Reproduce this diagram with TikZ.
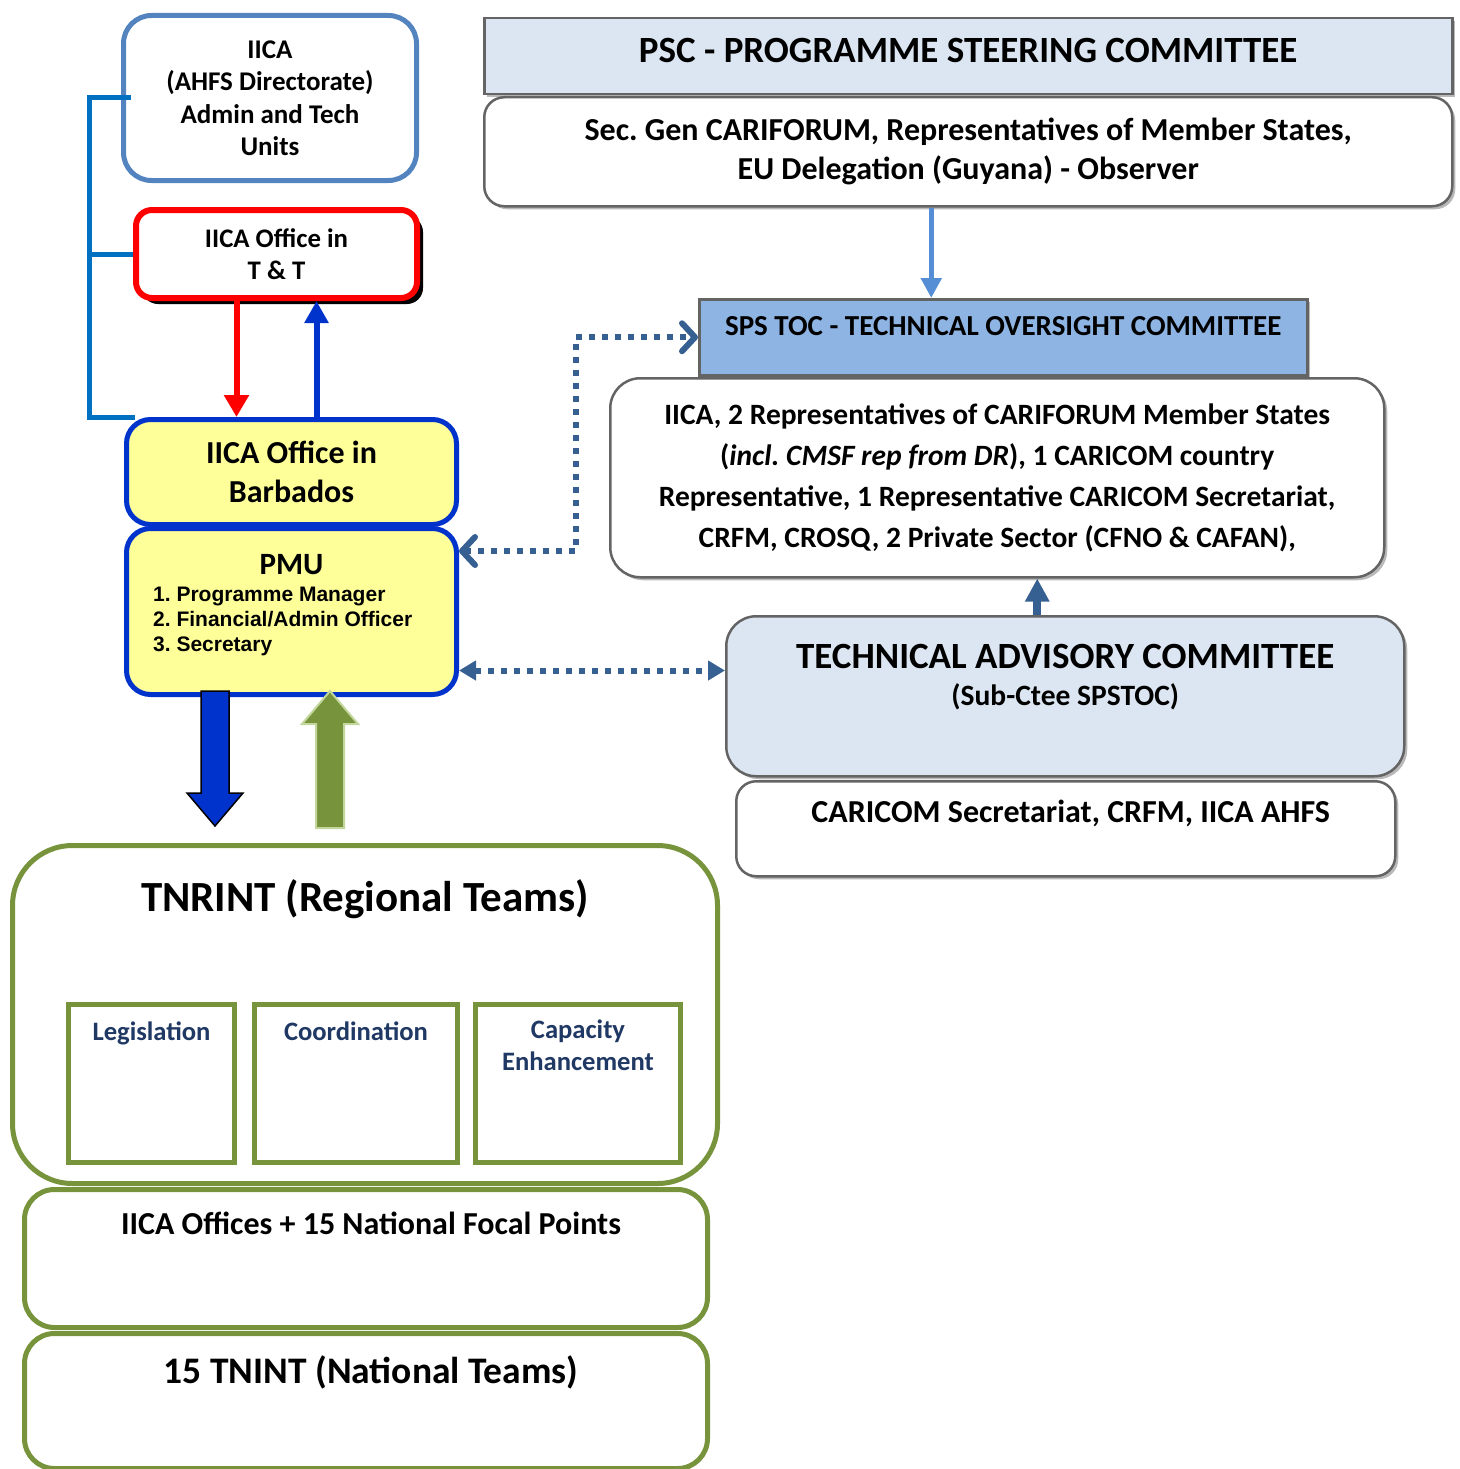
\documentclass[tikz,border=0pt]{standalone}
\usepackage{fontspec}
\setmainfont{Carlito}
\newfontfamily\listfont{Liberation Sans}
\usetikzlibrary{positioning, shadows, arrows.meta}
\frenchspacing

\definecolor{ahfsblue}{RGB}{84,132,192}
\definecolor{bracketblue}{RGB}{0,112,192}
\definecolor{pmublue}{RGB}{0,51,204}
\definecolor{pmuyellow}{RGB}{255,255,153}
\definecolor{teamgreen}{RGB}{119,147,60}
\definecolor{paleteam}{RGB}{195,214,155}
\definecolor{areablue}{RGB}{31,56,100}
\definecolor{boxgray}{RGB}{100,100,100}
\definecolor{shadegray}{RGB}{185,185,185}
\definecolor{headfill}{RGB}{220,230,242}
\definecolor{tocfill}{RGB}{142,180,227}
\definecolor{linkblue}{RGB}{85,142,213}
\definecolor{dotblue}{RGB}{55,96,146}
\newcommand*{\fsz}[2]{\fontsize{#1}{#2}\selectfont}

\begin{document}
\begin{tikzpicture}[x=1pt, y=-1pt, font=\bfseries,
    every node/.style={inner sep=0pt},
    ahfsbox/.style={draw=ahfsblue, line width=5pt, rounded corners=28pt, anchor=north west,
      align=center, font=\bfseries\fsz{27}{32.5}},
    ttbox/.style={draw=red, line width=6pt, rounded corners=16pt, fill=white, anchor=north west,
      align=center, font=\bfseries\fsz{26.8}{32.5},
      drop shadow={fill=black, opacity=1, shadow xshift=6pt, shadow yshift=-6pt}},
    pmubox/.style={draw=pmublue, line width=5pt, rounded corners=24pt, fill=pmuyellow,
      anchor=north west, align=center},
    teambox/.style={draw=teamgreen, line width=5pt, rounded corners=#1, fill=white, anchor=north west},
    areabox/.style={draw=teamgreen, line width=5pt, fill=white, anchor=north west},
    areatext/.style={text=areablue, align=center, font=\bfseries\fsz{26.6}{32}},
    headbox/.style={draw=boxgray, line width=2.5pt, fill=headfill, anchor=north west,
      drop shadow={fill=shadegray, opacity=1, shadow xshift=3pt, shadow yshift=-3pt}},
    membox/.style={draw=boxgray, line width=2.5pt, fill=white, rounded corners=#1, anchor=north west,
      align=center, drop shadow={fill=shadegray, opacity=1, shadow xshift=3pt, shadow yshift=-3pt}},
    bracket/.style={draw=bracketblue, line width=5pt},
    downlink/.style={draw=red, line width=6pt, -{Triangle[length=22pt, width=24pt]}},
    uplink/.style={draw=pmublue, line width=6pt, -{Triangle[length=22pt, width=23pt]}},
    psclink/.style={draw=linkblue, line width=5pt, -{Triangle[length=20pt, width=20pt]}},
    taclink/.style={draw=dotblue, line width=8pt, -{Triangle[length=23pt, width=23pt]}},
    dotlink/.style={draw=dotblue, line width=6pt, dash pattern=on 6pt off 7pt},
    barbtip/.tip={Straight Barb[length=13pt, width=28pt, line width=6pt, round]},
    tritip/.tip={Triangle[length=17pt, width=19pt]},
  ]
  \useasboundingbox (0,0) rectangle (1459,1469);

  % left column
  \node[ahfsbox, minimum width=293pt, minimum height=165pt] (ahfs) at (121,13)
    {IICA\\(AHFS Directorate)\\Admin and Tech\\Units};
  \node[ttbox, minimum width=281pt, minimum height=88pt] (tt) at (133,207)
    {IICA Office in\\T \& T};
  \node[pmubox, minimum width=330pt, minimum height=105pt, font=\bfseries\fsz{32}{39}] (barb) at (124,417)
    {IICA Office in\\Barbados};
  \node[pmubox, minimum width=330pt, minimum height=166pt] (pmu) at (124,526) {};
  \node[anchor=base, font=\bfseries\fsz{31}{36}] (pmutitle) at (pmu.north |- 0,574) {PMU};
  \node[anchor=north west, align=left, font=\listfont\bfseries\fsz{21}{25}] (pmulist) at (153,587)
    {1. Programme Manager\\2. Financial/Admin Officer\\3. Secretary};

  \coordinate (brk) at (89,0);
  \draw[bracket] ([xshift=10pt]ahfs.west) -- (ahfs.west -| brk) -- (barb.north west -| brk)
    -- ([xshift=11pt]barb.north west);
  \draw[bracket] (tt.west -| brk) -- (tt.west);
  \draw[downlink] ([xshift=-40pt]tt.south) -- ([xshift=-40pt]tt.south |- barb.north);
  \draw[uplink] ([xshift=40pt]tt.south |- barb.north) -- ([xshift=40pt]tt.south);

  % teams
  \node[teambox=60pt, minimum width=705pt, minimum height=338pt] (tnr) at (10,843) {};
  \node[anchor=base, font=\bfseries\fsz{43}{48}] (tnrtitle) at (tnr.north |- 0,911) {TNRINT (Regional Teams)};
  \node[areabox, minimum width=166pt, minimum height=158pt] (legis) at (66,1002) {};
  \node[areabox, minimum width=203pt, minimum height=158pt] (coord) at (252,1002) {};
  \node[areabox, minimum width=205pt, minimum height=158pt] (capac) at (473,1002) {};
  \node[areatext, anchor=base] (legistext) at (legis.north |- 0,1040) {Legislation};
  \node[areatext, anchor=base] (coordtext) at (coord.north |- 0,1040) {Coordination};
  \node[areatext, anchor=north] (capactext) at (capac.north |- 0,1020) {Capacity\\Enhancement};
  \node[teambox=30pt, minimum width=683pt, minimum height=138pt] (focal) at (22,1187) {};
  \node[anchor=base, font=\bfseries\fsz{32}{35}] (focaltext) at ([xshift=5pt]focal.north |- 0,1234)
    {IICA Offices + 15 National Focal Points};
  \node[teambox=30pt, minimum width=683pt, minimum height=135pt] (natl) at (22,1331) {};
  \node[anchor=base, font=\bfseries\fsz{37.5}{40}] (natltext) at ([xshift=5pt]natl.north |- 0,1383)
    {15 TNINT (National Teams)};

  \filldraw[fill=pmublue, draw=black, line width=1.5pt]
    (201,691) -- (229,691) -- (229,793) -- (243,793) -- (215,826) -- (187,793) -- (201,793) -- cycle;
  \filldraw[fill=teamgreen, draw=paleteam, line width=2pt]
    (316,828) -- (344,828) -- (344,724) -- (358,724) -- (330,691) -- (302,724) -- (316,724) -- cycle;

  % committees
  \node[headbox, minimum width=968pt, minimum height=76pt] (psch) at (483,17) {};
  \node[anchor=base, font=\bfseries\fsz{37}{40}] (pschtext) at (psch.north |- 0,63)
    {PSC - PROGRAMME STEERING COMMITTEE};
  \node[membox=20pt, minimum width=968pt, minimum height=109pt, font=\bfseries\fsz{32}{39}] (pscm) at (483,96)
    {Sec. Gen CARIFORUM, Representatives of Member States,\\EU Delegation (Guyana) - Observer};
  \node[headbox, fill=tocfill, minimum width=608pt, minimum height=76pt] (toch) at (698,298) {};
  \node[anchor=base, font=\bfseries\fsz{29}{32}] (tochtext) at (toch.north |- 0,335)
    {SPS TOC - TECHNICAL OVERSIGHT COMMITTEE};
  \node[membox=30pt, minimum width=774pt, minimum height=199pt, font=\bfseries\fsz{29.5}{41}] (tocm) at (609,377)
    {IICA, 2 Representatives of CARIFORUM Member States\\
     (\textit{incl. CMSF rep from DR}), 1 CARICOM country\\
     Representative, 1 Representative CARICOM Secretariat,\\
     CRFM, CROSQ, 2 Private Sector (CFNO \& CAFAN),};
  \node[membox=30pt, fill=headfill, minimum width=678pt, minimum height=160pt] (tac) at (725,615) {};
  \node[anchor=base, font=\bfseries\fsz{37}{40}] (tactitle) at (tac.north |- 0,668)
    {TECHNICAL ADVISORY COMMITTEE};
  \node[anchor=base, font=\bfseries\fsz{29.5}{32}] (tacsub) at (tac.north |- 0,705) {(Sub-Ctee SPSTOC)};
  \node[membox=20pt, minimum width=659pt, minimum height=95pt] (tacm) at (735,780) {};
  \node[anchor=base, font=\bfseries\fsz{32}{35}] (tacmtext) at ([xshift=5pt]tacm.north |- 0,822)
    {CARICOM Secretariat, CRFM, IICA AHFS};

  \draw[psclink] ([xshift=-37pt]pscm.south) -- ([xshift=-37pt]pscm.south |- toch.north);
  \draw[taclink] ([xshift=-28pt]tac.north) -- ([xshift=-28pt]tac.north |- tocm.south);

  \coordinate (dotx) at (576,0);
  \draw[dotlink, barbtip-barbtip] ([yshift=-25pt]pmu.north east) -| (dotx |- toch.west) -- (toch.west);
  \draw[dotlink, tritip-tritip] ([yshift=-59pt]pmu.east) -- ([yshift=-59pt]pmu.east -| tac.west);
\end{tikzpicture}
\end{document}
